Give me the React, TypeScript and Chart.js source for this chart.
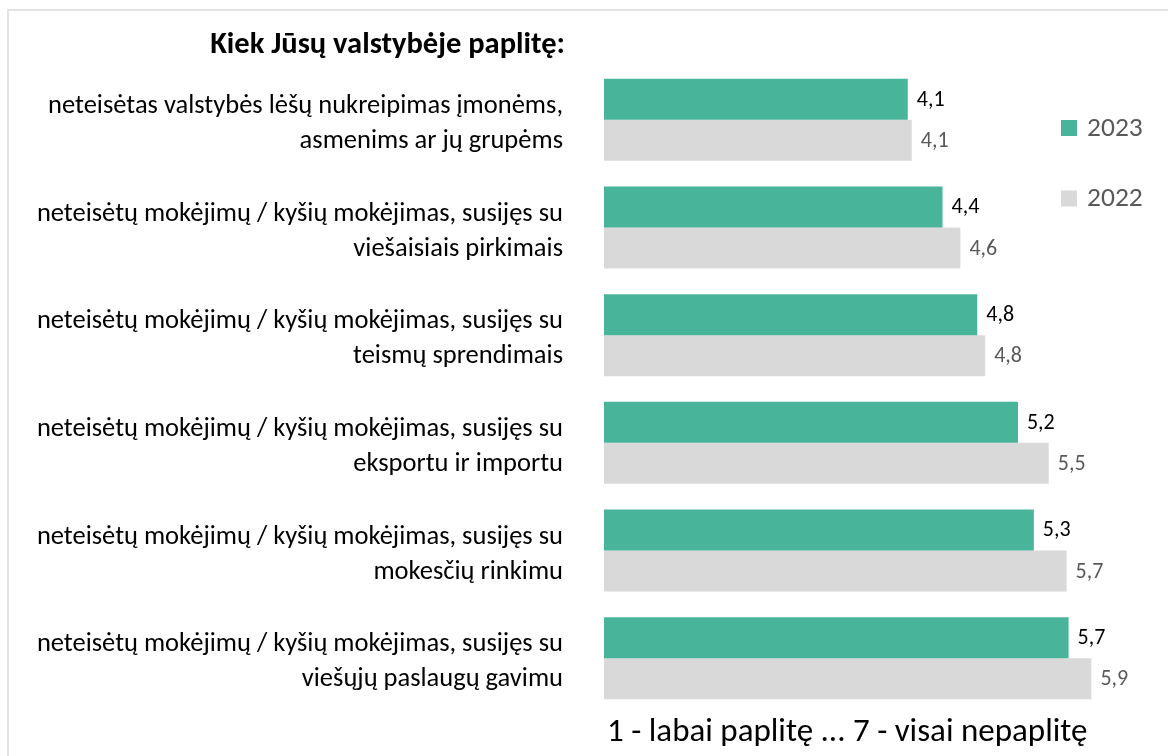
import React, { useEffect, useRef } from "react";
import { Chart, registerables } from "chart.js";

Chart.register(...registerables);

const categories: string[][] = [
  ["neteisėtas valstybės lėšų nukreipimas įmonėms,", "asmenims ar jų grupėms"],
  ["neteisėtų mokėjimų / kyšių mokėjimas, susijęs su", "viešaisiais pirkimais"],
  ["neteisėtų mokėjimų / kyšių mokėjimas, susijęs su", "teismų sprendimais"],
  ["neteisėtų mokėjimų / kyšių mokėjimas, susijęs su", "eksportu ir importu"],
  ["neteisėtų mokėjimų / kyšių mokėjimas, susijęs su", "mokesčių rinkimu"],
  ["neteisėtų mokėjimų / kyšių mokėjimas, susijęs su", "viešųjų paslaugų gavimu"],
];
// bar lengths; labels show one decimal
const values2023 = [4.06, 4.41, 4.76, 5.17, 5.33, 5.68];
const values2022 = [4.1, 4.59, 4.84, 5.48, 5.66, 5.91];
const seriesLabels = ["2023", "2022"];
const axisMin = 1;
const axisMax = 6.5;
const titleText = "Kiek Jūsų valstybėje paplitę:";
const footerText = "1 - labai paplitę ... 7 - visai nepaplitę";

const FONT = "Carlito, Calibri, Lato, sans-serif";
const GREEN = "#48B49A";
const GRAY = "#D9D9D9";

const fmt = (v: number) => v.toFixed(1).replace(".", ",");

const overlayPlugin = {
  id: "overlay",
  afterDatasetsDraw(chart: any) {
    const ctx = chart.ctx;
    const yScale = chart.scales.y;
    ctx.save();
    // category labels
    ctx.font = `26.5px ${FONT}`;
    ctx.fillStyle = "#000000";
    ctx.textAlign = "right";
    ctx.textBaseline = "middle";
    (chart.data.labels as string[][]).forEach((lines, i) => {
      const cy = yScale.getPixelForValue(i) + 4;
      const lh = 35;
      const start = cy - ((lines.length - 1) * lh) / 2;
      lines.forEach((line, li) => {
        ctx.fillText(line, 563, start + li * lh);
      });
    });
    // value labels
    chart.data.datasets.forEach((ds: any, di: number) => {
      const meta = chart.getDatasetMeta(di);
      ctx.font = `22px ${FONT}`;
      ctx.fillStyle = di === 0 ? "#000000" : "#595959";
      ctx.textAlign = "left";
      ctx.textBaseline = "middle";
      meta.data.forEach((bar: any, i: number) => {
        ctx.fillText(fmt(ds.data[i]), bar.x + 9, bar.y + 1);
      });
    });
    // title
    ctx.font = `bold 30.5px ${FONT}`;
    ctx.fillStyle = "#000000";
    ctx.textAlign = "right";
    ctx.textBaseline = "middle";
    ctx.fillText(titleText, 565, 45);
    // legend
    const legendY = [128, 198.5];
    chart.data.datasets.forEach((ds: any, di: number) => {
      ctx.fillStyle = ds.backgroundColor;
      ctx.fillRect(1061, legendY[di] - 8, 16, 16);
      ctx.font = `27.5px ${FONT}`;
      ctx.fillStyle = "#595959";
      ctx.textAlign = "left";
      ctx.textBaseline = "middle";
      ctx.fillText(ds.label, 1087, legendY[di] + 1);
    });
    // footer
    ctx.font = `33px ${FONT}`;
    ctx.fillStyle = "#000000";
    ctx.textAlign = "left";
    ctx.textBaseline = "middle";
    ctx.fillText(footerText, 607, 733);
    ctx.restore();
  },
};

export default function App() {
  const ref = useRef<HTMLCanvasElement | null>(null);
  useEffect(() => {
    if (!ref.current) return;
    const chart = new Chart(ref.current, {
      type: "bar",
      data: {
        labels: categories as any,
        datasets: [
          {
            label: seriesLabels[0],
            data: values2023,
            backgroundColor: GREEN,
            categoryPercentage: 0.762,
            barPercentage: 1.0,
          },
          {
            label: seriesLabels[1],
            data: values2022,
            backgroundColor: GRAY,
            categoryPercentage: 0.762,
            barPercentage: 1.0,
          },
        ],
      },
      options: {
        indexAxis: "y",
        animation: false,
        responsive: true,
        maintainAspectRatio: false,
        layout: { padding: { top: 66, bottom: 44, right: 18, left: 604 } },
        plugins: {
          legend: { display: false },
          tooltip: { enabled: false },
          title: { display: false },
        },
        scales: {
          x: {
            display: false,
            min: axisMin,
            max: axisMax,
          },
          y: {
            display: false,
          },
        },
      },
      plugins: [overlayPlugin],
    });
    return () => chart.destroy();
  }, []);

  return (
    <div style={{ position: "absolute", left: 0, top: 0, width: 1168, height: 756, overflow: "hidden", background: "#ffffff" }}>
      <canvas ref={ref} />
      <div
        style={{
          position: "absolute",
          left: 7,
          top: 9,
          width: 1200,
          height: 800,
          borderLeft: "2px solid #e3e3e3",
          borderTop: "2px solid #e3e3e3",
          pointerEvents: "none",
        }}
      />
    </div>
  );
}
